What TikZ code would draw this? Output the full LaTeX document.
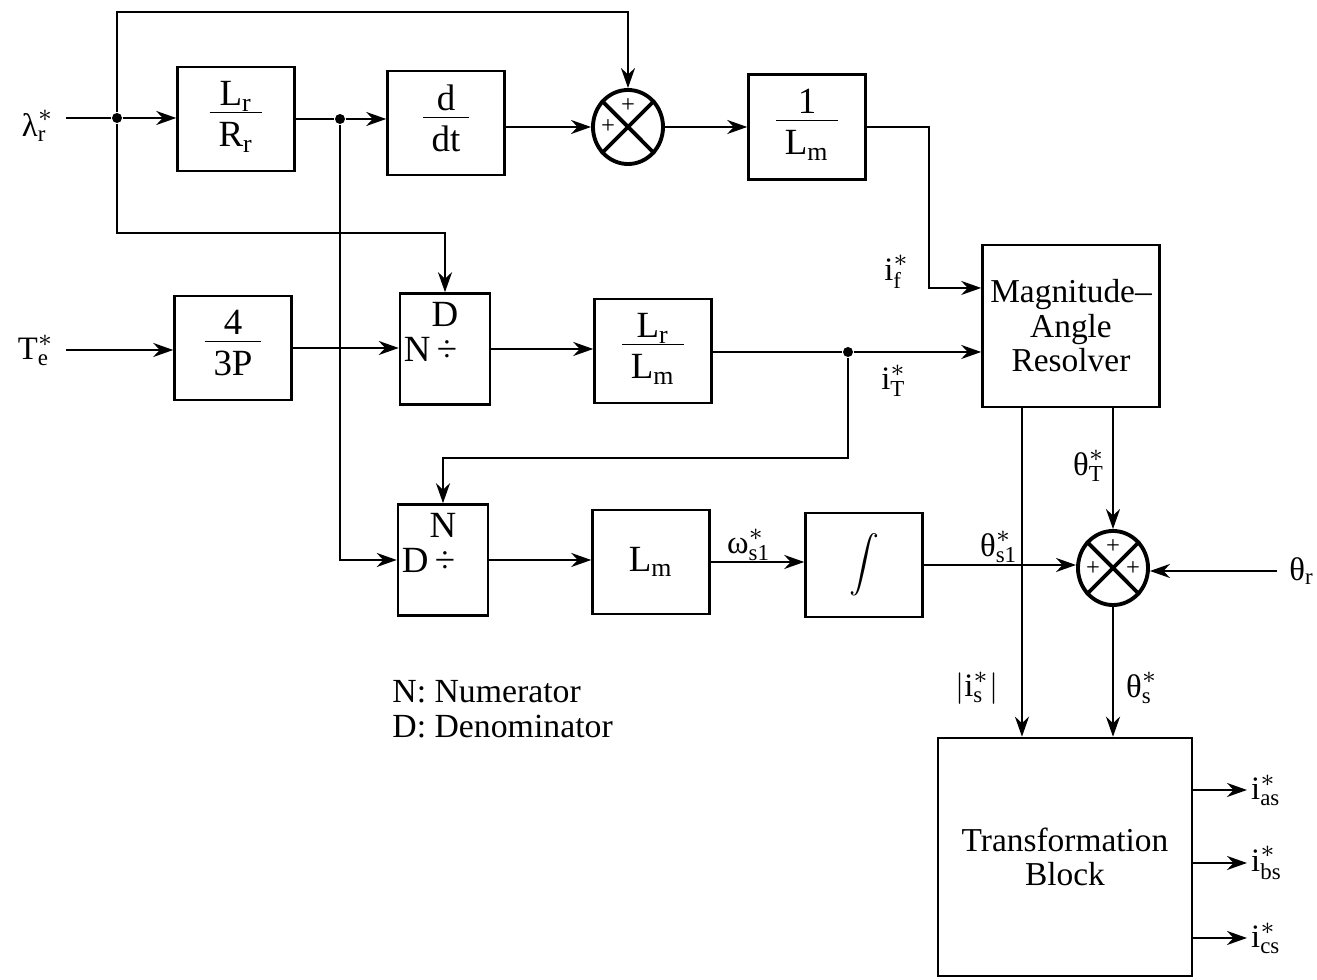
\documentclass[tikz,border=0pt]{standalone}
\usepackage{amsmath}
\usepackage{fontspec}
\setmainfont{Liberation Serif}
\usetikzlibrary{shapes.geometric, arrows.meta, positioning, calc}

\newcommand{\sig}[2]{$\text{#1}^{*}_{\text{#2}}$}
\newcommand{\frc}[2]{\renewcommand{\arraystretch}{0.8}%
  \begin{tabular}{@{\hspace{2.5pt}}c@{\hspace{2.5pt}}}#1\\[-1pt]\hline\rule{0pt}{9.5pt}#2\end{tabular}}

\begin{document}
\begin{tikzpicture}[
  x=0.01cm, y=-0.01cm,
  font=\fontsize{9.3}{9.8}\selectfont,
  block/.style  = {draw, line width=0.7pt, minimum width=1.17cm, minimum height=1.04cm,
                   inner sep=0pt, font=\fontsize{10.5}{12}\selectfont},
  divbox/.style = {draw, line width=0.7pt, minimum width=0.9cm, minimum height=1.11cm,
                   inner sep=0pt},
  sumj/.style   = {draw, ellipse, line width=1.1pt, minimum width=0.70cm,
                   minimum height=0.74cm, inner sep=0pt},
  jdot/.style   = {circle, fill, inner sep=0pt, minimum size=0.1cm},
  arr/.style    = {-{Stealth[length=2mm,width=1.4mm]}, line width=0.7pt},
  wire/.style   = {line width=0.7pt},
  pm/.style     = {font=\fontsize{7}{7}\selectfont, inner sep=0pt},
  dvt/.style    = {font=\fontsize{10.5}{12}\selectfont, inner sep=1pt}
]
\useasboundingbox (0,0) rectangle (1317,980);

% -- top row
\node (lam) at (38,126) {\sig{λ}{r}};
\node[jdot] (j1) at (117,118) {};
\node[block] (lrr) at (236,119) {\frc{L$_{\text{r}}$}{R$_{\text{r}}$}};
\node[jdot] (j2) at (340,119) {};
\node[block] (ddt) at (446,123) {\frc{d}{dt}};
\node[sumj] (sum1) at (628,127) {};
\node[block, minimum height=1.05cm] (lm1) at (807,127) {\frc{1}{L$_{\text{m}}$}};

% -- middle row
\node (te) at (36,350) {\sig{T}{e}};
\node[block] (gain) at (233,348) {\frc{4}{3P}};
\node[divbox] (div1) at (445,349) {};
\node[dvt, below=0.06cm of div1.north] (div1n) {D};
\node[dvt, right=0.01cm of div1.west] (div1d) {N\,÷};
\node[block] (lrlm) at (653,351) {\frc{L$_{\text{r}}$}{L$_{\text{m}}$}};
\node[jdot] (j3) at (848,352) {};
\node[block, minimum width=1.77cm, minimum height=1.62cm, align=center,
      font=\fontsize{9.5}{9.8}\selectfont] (mar) at (1071,326) {Magnitude--\\Angle\\Resolver};

% -- bottom row
\node[divbox] (div2) at (443,560) {};
\node[dvt, below=0.06cm of div2.north] (div2n) {N};
\node[dvt, right=0.01cm of div2.west] (div2d) {D\,÷};
\node[block] (lm2) at (651,562) {L$_{\text{m}}$};
\node[block] (intg) at (864,565) {\fontsize{8.5}{8.5}\selectfont$\boldsymbol{\displaystyle\int}$};
\node[sumj] (sum2) at (1113,568) {};
\node (thr) at (1302,571) {$\text{θ}_{\text{r}}$};

\node[block, minimum width=2.54cm, minimum height=2.38cm, align=center,
      font=\fontsize{9.5}{9.8}\selectfont] (tb) at (1065,857) {Transformation\\Block};
\node[anchor=west, inner sep=1pt] (ias) at (1247,790) {\sig{i}{as}};
\node[anchor=west, inner sep=1pt] (ibs) at (1247,863) {\sig{i}{bs}};
\node[anchor=west, inner sep=1pt] (ics) at (1247,938) {\sig{i}{cs}};

\node[anchor=north west, align=left, font=\fontsize{9.6}{10}\selectfont] (note) at (380,668)
     {N: Numerator\\D: Denominator};

% -- summing junction marks
\draw[line width=1.1pt] (sum1.45) -- (sum1.225) (sum1.135) -- (sum1.315);
\draw[line width=1.1pt] (sum2.45) -- (sum2.225) (sum2.135) -- (sum2.315);
\node[pm] at ($(sum1)+(0,-21)$) {+};
\node[pm] at ($(sum1)+(-20,0)$) {+};
\node[pm] at ($(sum2)+(0,-21)$) {+};
\node[pm] at ($(sum2)+(-20,1)$) {+};
\node[pm] at ($(sum2)+(20,1)$) {+};

% -- signal labels
\node (lif) at (897,272) {\sig{i}{f}};
\node (lit) at (894,381) {\sig{i}{T}};
\node (lw)  at (749,545) {\sig{ω}{s1}};
\node (lth) at (999,547) {\sig{θ}{s1}};
\node (ltt) at (1089,466) {\sig{θ}{T}};
\node (lis) at (977,688) {$\lvert\text{i}^{*}_{\text{s}}\rvert$};
\node (lts) at (1142,688) {\sig{θ}{s}};

% -- connectors
\draw[wire] (lam.east |- j1) -- (j1);
\draw[arr] (j1) -- (lrr.west |- j1);
\draw[arr] (j1) -- ++(0,-106) -| (sum1.north);
\draw[arr] (j1) -- ++(0,115) -| (div1.north);
\draw[wire] (lrr.east |- j2) -- (j2);
\draw[arr] (j2) -- (ddt.west |- j2);
\draw[arr] (j2) |- (div2.west);
\draw[arr] (ddt.east |- sum1) -- (sum1.west);
\draw[arr] (sum1.east) -- (sum1 -| lm1.west);
\draw[arr] (lm1.east) -- ++(62,0) |- ([yshift=0.38cm]mar.west);

\draw[arr] (te.east) -- (te.east -| gain.west);
\draw[arr] (gain.east) -- (gain.east -| div1.west);
\draw[arr] (div1.east) -- (div1.east -| lrlm.west);
\draw[wire] (lrlm.east |- j3) -- (j3);
\draw[arr] (j3) -- (j3 -| mar.west);
\draw[arr] (j3) -- ++(0,106) -| (div2.north);

\draw[arr] (div2.east) -- (div2.east -| lm2.west);
\draw[arr] (lm2.east) -- (lm2.east -| intg.west);
\draw[arr] (intg.east) -- (intg.east -| sum2.west);
\draw[arr] (thr.west) -- (thr.west -| sum2.east);
\draw[arr] (mar.south -| sum2.north) -- (sum2.north);
\draw[arr] ([xshift=-0.49cm]mar.south) -- ([xshift=-0.49cm]mar.south |- tb.north);
\draw[arr] (sum2.south) -- (sum2.south |- tb.north);

\draw[arr] (ias.west -| tb.east) -- (ias.west);
\draw[arr] (ibs.west -| tb.east) -- (ibs.west);
\draw[arr] (ics.west -| tb.east) -- (ics.west);
\end{tikzpicture}
\end{document}
